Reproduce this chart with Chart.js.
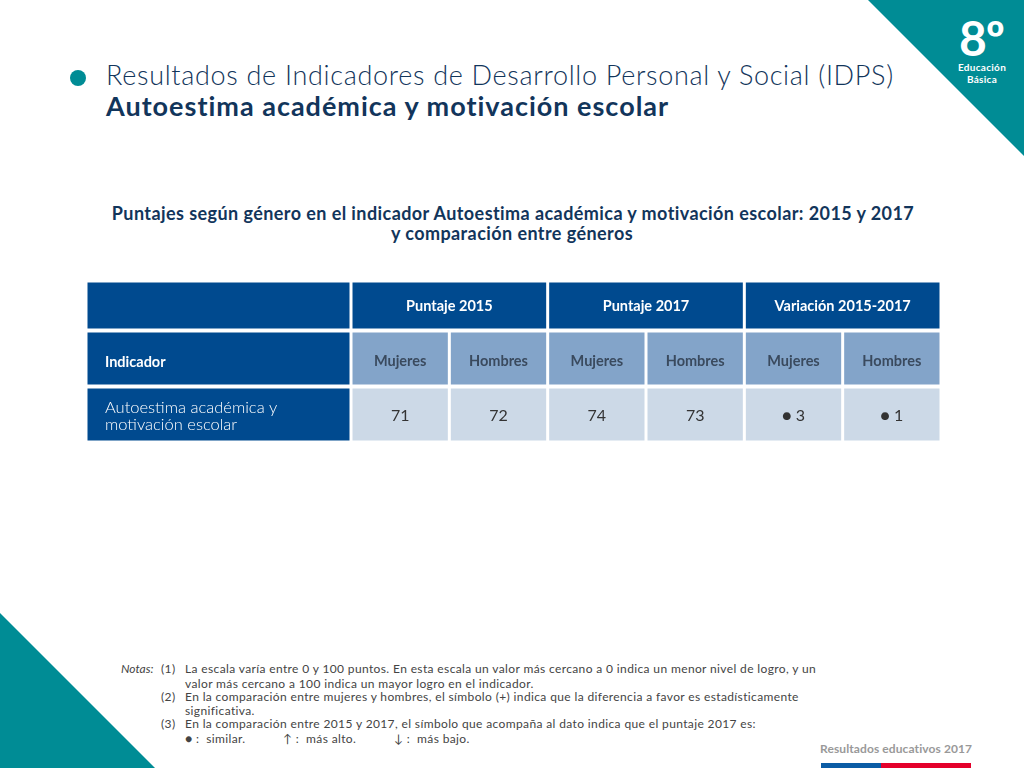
<!DOCTYPE html>
<html lang="es">
<head>
<meta charset="utf-8">
<title>Autoestima académica y motivación escolar</title>
<script src="https://cdn.jsdelivr.net/npm/chart.js@4"></script>
<style>
  html, body { margin: 0; padding: 0; background: #fff; }
  body { position: relative; width: 1024px; height: 768px; overflow: hidden; font-family: Lato, sans-serif; }
  .abs { position: absolute; white-space: nowrap; }
  .tri { position: absolute; background: #008c95; }
  #triTop { left: 868px; top: 0; width: 156px; height: 156px; clip-path: polygon(0 0, 100% 0, 100% 100%); }
  #triBottom { left: 0; top: 613px; width: 155px; height: 155px; clip-path: polygon(0 0, 100% 100%, 0 100%); }
  #dot { left: 70px; top: 70px; width: 16px; height: 16px; border-radius: 50%; background: #008c95; }
  #title1 { left: 106px; top: 59px; font-size: 27px; line-height: 32px; font-weight: 300; color: #12355b; letter-spacing: 0.69px; }
  #title2 { left: 106px; top: 90px; font-size: 27px; line-height: 32px; font-weight: 700; color: #12355b; letter-spacing: 1px; }
  .sub { left: 0; width: 1024px; padding-left: 2px; box-sizing: border-box; text-align: center; font-size: 18px; line-height: 20px; font-weight: 700; color: #12355b; letter-spacing: 0.42px; }
  #eight { left: 959px; top: 16px; font-size: 48px; line-height: 44px; font-weight: 700; color: #fff; letter-spacing: -1px; }
  .edu { left: 942px; width: 80px; text-align: center; font-size: 10px; line-height: 12px; font-weight: 700; color: #fff; letter-spacing: 0.3px; }
  .note { font-size: 12px; line-height: 14px; color: #444; letter-spacing: 0.37px; }
  #footer { left: 820px; top: 741px; font-size: 12px; line-height: 16px; font-weight: 700; color: #999; letter-spacing: 0.1px; }
  #barBlue { position: absolute; left: 821px; top: 763px; width: 60px; height: 5px; background: #0b5ca5; }
  #barRed { position: absolute; left: 881px; top: 763px; width: 90px; height: 5px; background: #e4002b; }
  #tableBox { position: absolute; left: 86px; top: 281px; width: 855px; height: 161px; }
</style>
</head>
<body>
<div class="tri" id="triTop"></div>
<div class="tri" id="triBottom"></div>
<div class="abs" id="dot"></div>
<div class="abs" id="title1">Resultados de Indicadores de Desarrollo Personal y Social (IDPS)</div>
<div class="abs" id="title2">Autoestima académica y motivación escolar</div>
<div class="abs sub" style="top:203px">Puntajes según género en el indicador Autoestima académica y motivación escolar: 2015 y 2017</div>
<div class="abs sub" style="top:223px;padding-left:0">y comparación entre géneros</div>
<div class="abs" id="eight">8º</div>
<div class="abs edu" style="top:61px">Educación</div>
<div class="abs edu" style="top:73px">Básica</div>

<div id="tableBox"><canvas id="chart-table"></canvas></div>

<div class="abs note" style="left:121px;top:662px;letter-spacing:0"><i>Notas:</i></div>
<div class="abs note" style="left:161px;top:662px">(1)</div>
<div class="abs note" style="left:185px;top:662px">La escala varía entre 0 y 100 puntos. En esta escala un valor más cercano a 0 indica un menor nivel de logro, y un</div>
<div class="abs note" style="left:185px;top:677px">valor más cercano a 100 indica un mayor logro en el indicador.</div>
<div class="abs note" style="left:161px;top:690px">(2)</div>
<div class="abs note" style="left:185px;top:690px">En la comparación entre mujeres y hombres, el símbolo (+) indica que la diferencia a favor es estadísticamente</div>
<div class="abs note" style="left:185px;top:704px">significativa.</div>
<div class="abs note" style="left:161px;top:717px">(3)</div>
<div class="abs note" style="left:185px;top:717px">En la comparación entre 2015 y 2017, el símbolo que acompaña al dato indica que el puntaje 2017 es:</div>
<div class="abs note" style="left:185px;top:732px">● :&nbsp;&nbsp;similar.</div>
<div class="abs note" style="left:283px;top:732px">↑ :&nbsp;&nbsp;más alto.</div>
<div class="abs note" style="left:394px;top:732px">↓ :&nbsp;&nbsp;más bajo.</div>

<div class="abs" id="footer">Resultados educativos 2017</div>
<div id="barBlue"></div>
<div id="barRed"></div>

<script>
// --- DATA ---
const periods = ['Puntaje 2015', 'Puntaje 2017', 'Variación 2015-2017'];
const genders = ['Mujeres', 'Hombres'];
const rowTitle = 'Indicador';
const indicator = ['Autoestima académica y', 'motivación escolar'];
const scores = [71, 72, 74, 73];
const variation = ['● 3', '● 1'];

// --- LAYOUT ---
// x axis runs in data columns, 0 is the left edge of the first score column
const LABEL_COL = 2.695;
const ROW_HEIGHTS = [49, 55, 55];
const ROW_GAP = 1;
const TOTAL_H = ROW_HEIGHTS[0] + ROW_HEIGHTS[1] + ROW_HEIGHTS[2] + 2 * ROW_GAP;
const rowCenter = (i) => ROW_HEIGHTS.slice(0, i).reduce((a, b) => a + b + ROW_GAP, 0) + ROW_HEIGHTS[i] / 2;

const DARK = '#004a8f';
const MID = '#83a4c9';
const LIGHT = '#ccd9e7';

const topCells = [''].concat(periods);
const midCells = [rowTitle];
const lowCells = [indicator];
periods.forEach(() => genders.forEach((g) => midCells.push(g)));
scores.concat(variation).forEach((v) => lowCells.push(String(v)));

const topSpans = [[-LABEL_COL, 0]].concat(periods.map((p, i) => [i * 2, i * 2 + 2]));
const colSpans = [[-LABEL_COL, 0]].concat(midCells.slice(1).map((c, i) => [i, i + 1]));

const makeRow = (spans, row) => spans.map((s) => ({ x: s, y: rowCenter(row) }));
const colorsFor = (spans, color) => spans.map((s, i) => (i === 0 ? DARK : color));

// Writes the cell texts on top of the bars
const cellText = {
    id: 'cellText',
    afterDatasetsDraw(chart) {
        const ctx = chart.ctx;
        const rows = [
            { texts: topCells, font: '700 14.5px Lato', color: '#ffffff', dy: 1 },
            { texts: midCells, font: '700 14.5px Lato', color: '#3a4a5e', dy: 3 },
            { texts: lowCells, font: '400 16px Lato', color: '#333333', dy: 1.5 }
        ];
        ctx.save();
        ctx.textBaseline = 'middle';
        rows.forEach((row, r) => {
            chart.getDatasetMeta(r).data.forEach((bar, i) => {
                const props = bar.getProps(['x', 'y', 'base']);
                const text = row.texts[i];
                ctx.font = row.font;
                ctx.fillStyle = row.color;
                if (i === 0) {
                    ctx.textAlign = 'left';
                    ctx.fillStyle = '#ffffff';
                    if (Array.isArray(text)) {
                        ctx.font = '300 16.5px Lato';
                        text.forEach((t, k) => ctx.fillText(t, 19, props.y + 1.5 + (k - 0.5) * 17));
                    } else {
                        ctx.fillText(text, 19, props.y + 4);
                    }
                } else {
                    ctx.textAlign = 'center';
                    ctx.fillText(text, (props.x + props.base) / 2, props.y + row.dy);
                }
            });
        });
        ctx.restore();
    }
};

new Chart(document.getElementById('chart-table').getContext('2d'), {
    type: 'bar',
    data: {
        datasets: [
            { data: makeRow(topSpans, 0), backgroundColor: DARK, maxBarThickness: ROW_HEIGHTS[0] },
            { data: makeRow(colSpans, 1), backgroundColor: colorsFor(colSpans, MID), maxBarThickness: ROW_HEIGHTS[1] },
            { data: makeRow(colSpans, 2), backgroundColor: colorsFor(colSpans, LIGHT), maxBarThickness: ROW_HEIGHTS[2] }
        ]
    },
    plugins: [cellText],
    options: {
        indexAxis: 'y',
        responsive: true,
        maintainAspectRatio: false,
        animation: false,
        layout: { padding: 0 },
        grouped: false,
        barPercentage: 10, // ungrouped bars take their height from maxBarThickness
        categoryPercentage: 10,
        borderColor: '#ffffff',
        borderWidth: 1.5,
        borderSkipped: false,
        plugins: { legend: { display: false }, tooltip: { enabled: false }, title: { display: false } },
        scales: {
            x: { type: 'linear', min: -LABEL_COL, max: 6, display: false },
            y: { type: 'linear', min: 0, max: TOTAL_H, reverse: true, offset: false, display: false }
        }
    }
});
</script>
</body>
</html>
